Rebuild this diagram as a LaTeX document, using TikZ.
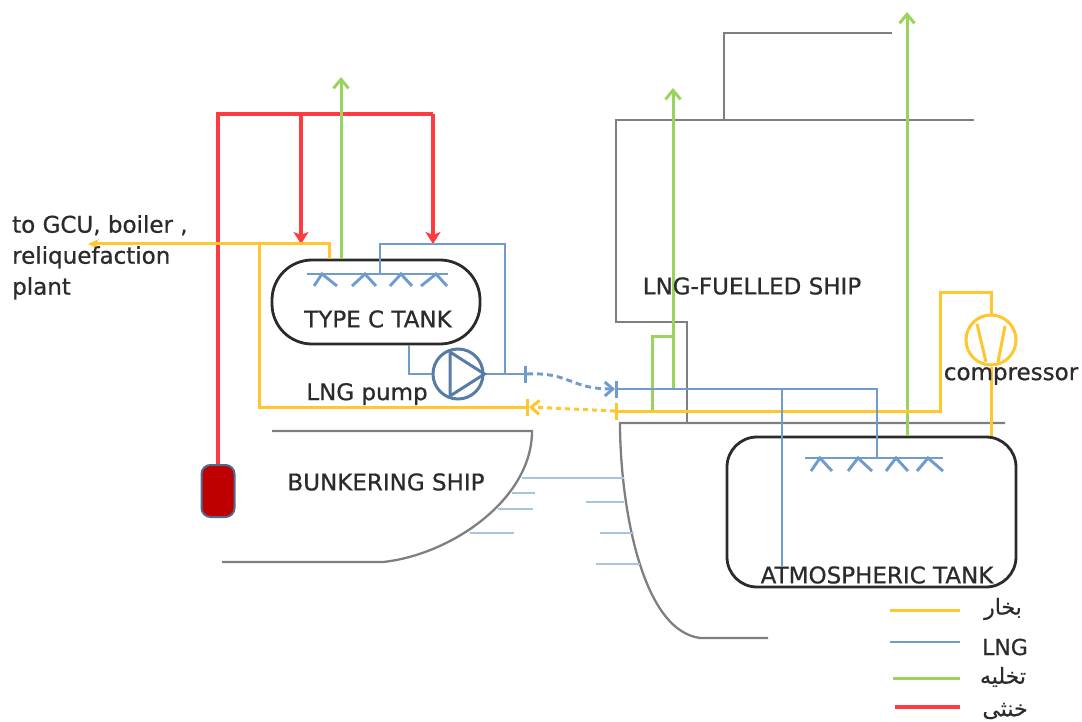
\documentclass[tikz,border=0pt]{standalone}
\usepackage{fontspec}
\setmainfont{DejaVu Sans}
\newfontfamily\tagfont[FakeBold=0.7]{DejaVu Sans}
\newfontfamily\arabicfont[Script=Arabic,FakeBold=0.4]{DejaVu Sans}
\TeXXeTstate=1
\usepackage{xcolor}
\usetikzlibrary{arrows.meta,positioning}
\definecolor{vapourcol}{HTML}{FFC62E}
\definecolor{lngcol}{HTML}{6F9BCF}
\definecolor{ventcol}{HTML}{9AD45F}
\definecolor{inertcol}{HTML}{FF3B40}
\definecolor{hullcol}{HTML}{7F7F7F}
\definecolor{inkcol}{HTML}{2B2B2B}

\begin{document}
\begin{tikzpicture}[
  x=1pt, y=-1pt,
  vapour/.style={draw=vapourcol, line width=3pt},
  lng/.style={draw=lngcol, line width=2.9pt},
  vent/.style={draw=ventcol, line width=3pt},
  inert/.style={draw=inertcol, line width=3.2pt},
  hull/.style={draw=hullcol, line width=2.3pt},
  water/.style={draw=lngcol!60, line width=2pt},
  tank/.style={draw=inkcol, line width=2.8pt, inner sep=0pt},
  tag/.style={font=\tagfont\fontsize{23}{31}\selectfont, text=inkcol, inner sep=0pt},
  legendtag/.style={font=\tagfont\fontsize{22}{24}\selectfont, text=inkcol, inner sep=0pt},
  ventarrow/.style={-{Straight Barb[length=9pt,width=15pt]}},
  inertarrow/.style={-{Stealth[length=12pt,width=15pt,inset=3pt]}},
]
\useasboundingbox (0,0) rectangle (1082,722);

% Vessels
\node[tank, rounded corners=40pt, minimum width=208pt, minimum height=84pt] (tankC) at (376,302) {};
\node[tank, rounded corners=30pt, minimum width=289pt, minimum height=150pt] (tankA) at (871.5,512) {};
\node[draw=lngcol!70!black, fill=red!75!black, line width=2pt, rounded corners=9pt,
      minimum width=33pt, minimum height=52pt, inner sep=0pt] (bottle) at (218,491) {};
\node[draw=lngcol!80!black, line width=3pt, circle, minimum size=50pt, inner sep=0pt] (pump) at (458,374) {};
\node[draw=vapourcol, line width=3pt, circle, minimum size=50pt, inner sep=0pt] (comp) at (991,340) {};

% Pipe ends and corners
\coordinate (redL) at (218,114);
\coordinate (redM) at (301,114);
\coordinate (redR) at (433,114);
\coordinate (redMend) at (301,244);
\coordinate (redRend) at (433,244);
\coordinate (ventC) at (341,77);
\coordinate (togcu) at (88,244);
\coordinate (yelC) at (329,244);
\coordinate (yelJ) at (259,244);
\coordinate (yelL) at (529,407);
\coordinate (yelR) at (615,411);
\coordinate (yelE) at (940,411);
\coordinate (yelT) at (940,292);
\coordinate (yelU) at (991,292);
\coordinate (sprayC) at (380,274);
\coordinate (lngT) at (380,244);
\coordinate (lngD) at (505,244);
\coordinate (lngJ) at (505,374);
\coordinate (lngL) at (527,374);
\coordinate (lngR) at (615,389);
\coordinate (lngK) at (877,389);
\coordinate (lngS) at (782,389);
\coordinate (lngSend) at (782,566);
\coordinate (sprayA) at (877,458);
\coordinate (pumpin) at (409,374);
\coordinate (ventF) at (673,88);
\coordinate (ventFb) at (673,389);
\coordinate (ventFj) at (673,336);
\coordinate (ventFl) at (652,336);
\coordinate (ventFd) at (652,411);
\coordinate (ventA) at (907,12);

% Hull outlines
\coordinate (upperA) at (892,33);
\coordinate (upperB) at (724,33);
\coordinate (upperC) at (724,120);
\coordinate (houseA) at (974,120);
\coordinate (houseB) at (616,120);
\coordinate (houseC) at (616,322);
\coordinate (houseD) at (687,322);
\coordinate (deckJ) at (687,423);
\coordinate (deckA) at (1005,423);
\coordinate (deckB) at (620,423);
\coordinate (keelA) at (700,638);
\coordinate (keelB) at (768,638);
\coordinate (bunkA) at (272,431);
\coordinate (bunkB) at (532,431);
\coordinate (bunkC) at (383,562);
\coordinate (bunkD) at (222,562);
\draw[hull] (upperA) -- (upperB) -- (upperC);
\draw[hull] (houseA) -- (houseB) -- (houseC) -- (houseD) -- (deckJ);
\draw[hull] (deckA) -- (deckB) .. controls (620,500) and (640,630) .. (keelA) -- (keelB);
\draw[hull] (bunkA) -- (bunkB) .. controls (532,500) and (450,555) .. (bunkC) -- (bunkD);

% Water lines
\draw[water] (522,478) -- (624,478);
\draw[water] (512,493) -- (535,493);
\draw[water] (498,509) -- (533,509);
\draw[water] (470,533) -- (514,533);
\draw[water] (586,502) -- (624,502);
\draw[water] (600,533) -- (634,533);
\draw[water] (596,564) -- (640,564);

% Nitrogen
\draw[inert] (bottle.north) -- (redL) -- (redR);
\draw[inert, inertarrow] (redM) -- (redMend);
\draw[inert, inertarrow] (redR) -- (redRend);

% Venting
\draw[vent, ventarrow] (tankC.north -| ventC) -- (ventC);
\draw[vent, ventarrow] (ventFb) -- (ventF);
\draw[vent] (ventFj) -- (ventFl) -- (ventFd);
\draw[vent, ventarrow] (tankA.north -| ventA) -- (ventA);

% Vapour return
\draw[vapour, -{Stealth[length=11pt,width=10pt]}] (tankC.north -| yelC) -- (yelC) -- (togcu);
\draw[vapour, -{Bar[width=17pt]}] (yelJ) |- (yelL);
\draw[vapour, dashed, dash pattern=on 5pt off 4pt, -{Straight Barb[length=8pt,width=14pt]}] (yelR) -- (yelL);
\draw[vapour, {Bar[width=17pt]}-] (yelR) -- (yelE) -- (yelT) -- (yelU) -- (comp.north);
\draw[vapour] (comp.south) -- (tankA.north -| comp);
\draw[vapour] (977,324) -- (986,362);
\draw[vapour] (1005,326) -- (998,362);

% LNG
\draw[lng] (sprayC) -- (lngT) -- (lngD) -- (lngJ);
\draw[lng] (tankC.south -| pumpin) -- (pumpin) -- (pump.west);
\draw[lng, -{Bar[width=17pt]}] (pump.east) -- (lngL);
\draw[lng, dashed, dash pattern=on 6pt off 4pt, -{Straight Barb[length=8pt,width=14pt]}] (lngL) .. controls (570,372) and (570,389) .. (lngR);
\draw[lng, {Bar[width=17pt]}-] (lngR) -- (lngK) -- (sprayA);
\draw[lng] (lngS) -- (lngSend);
\draw[draw=lngcol!80!black, line width=3pt] (450,352) -- (450,396) -- (pump.east) -- cycle;

% Spray rails
\draw[lng] (307,274) -- (448,274);
\draw[lng] (314,286) -- (322,274) -- (337,286);
\draw[lng] (352,286) -- (365,274) -- (376,286);
\draw[lng] (390,286) -- (401,274) -- (412,286);
\draw[lng] (421,286) -- (436,274) -- (447,286);
\draw[lng] (805,458) -- (943,458);
\draw[lng] (811,471) -- (820,458) -- (832,471);
\draw[lng] (848,471) -- (858,458) -- (872,471);
\draw[lng] (886,471) -- (896,458) -- (908,471);
\draw[lng] (917,471) -- (928,458) -- (943,471);

% Labels
\node[tag] (labelC) at (378,319) {TYPE C TANK};
\node[tag] (labelP) at (367,394) {LNG pump};
\node[tag, align=left, anchor=north west] (labelG) at (12,215) {to GCU, boiler ,\\reliquefaction\\plant};
\node[tag] (labelB) at (386,482) {BUNKERING SHIP};
\node[tag] (labelF) at (752,286) {LNG-FUELLED SHIP};
\node[tag] (labelCo) at (1011,376) {compressor};
\node[tag] (labelA) at (877,575) {ATMOSPHERIC TANK};

% Legend
\coordinate (legA) at (890,610);
\coordinate[right=70pt of legA] (legAe);
\coordinate (legB) at (890,642);
\coordinate[right=70pt of legB] (legBe);
\coordinate (legC) at (893,678);
\coordinate[right=67pt of legC] (legCe);
\coordinate (legD) at (895,707);
\coordinate[right=65pt of legD] (legDe);
\draw[vapour] (legA) -- (legAe);
\draw[lng] (legB) -- (legBe);
\draw[vent] (legC) -- (legCe);
\draw[inert] (legD) -- (legDe);
\node[legendtag] (tagA) at (1003,609) {\arabicfont\beginR بخار\endR};
\node[legendtag] (tagB) at (1005,647) {LNG};
\node[legendtag] (tagC) at (1003,677) {\arabicfont\beginR تخلیه\endR};
\node[legendtag] (tagD) at (1005,711) {\arabicfont\beginR خنثی\endR};
\end{tikzpicture}
\end{document}
